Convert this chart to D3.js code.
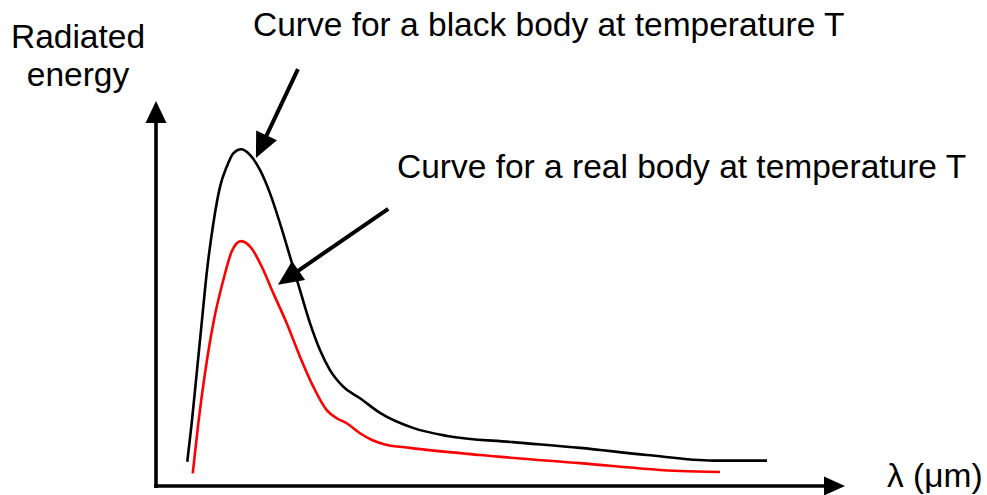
<!DOCTYPE html>
<html>
<head>
<meta charset="utf-8">
<script src="https://cdn.jsdelivr.net/npm/d3@7"></script>
<style>
  html, body { margin: 0; padding: 0; background: #fff; }
  svg { display: block; font-family: "Liberation Sans", Arial, sans-serif; }
</style>
</head>
<body>
<svg id="chart" width="987" height="495"></svg>
<script>
// Wavelength (arbitrary units, 0–100 along the axis) and radiated energy (arbitrary units)
const blackWavelength = [4.54, 5.18, 5.91, 6.63, 7.36, 8.32, 9.29, 10.26, 11.22, 12.34, 13.64, 15.09, 16.55, 18.0, 19.45, 20.9, 22.35, 23.8, 25.25, 27.18, 29.61, 32.51, 37.3, 42.24, 51.81, 61.54, 71.26, 80.84, 88.68];
const blackEnergy     = [6.3, 16.3, 29.3, 42.3, 55.3, 68.2, 77.7, 82.9, 86.4, 87.45, 86.0, 82.1, 76.0, 68.2, 59.6, 50.9, 42.3, 35.3, 30.1, 25.8, 22.8, 19.0, 15.1, 13.0, 11.4, 9.9, 8.05, 6.6, 6.6];

const realWavelength = [5.33, 6.14, 7.11, 8.32, 9.77, 10.99, 12.34, 13.89, 15.34, 17.02, 18.97, 20.9, 22.83, 24.78, 26.23, 27.68, 29.61, 31.35, 33.24, 36.86, 47.02, 61.54, 76.05, 81.86];
const realEnergy     = [3.3, 16.3, 29.3, 42.3, 53.5, 60.9, 63.6, 61.7, 57.0, 50.1, 42.3, 33.6, 25.8, 19.7, 17.6, 16.3, 13.7, 11.95, 10.8, 9.9, 8.05, 5.95, 3.9, 3.65];

const axisLabels = { y: ["Radiated", "energy"], x: "λ (μm)" };

// Callout labels with their arrows (from → to, in data units)
const calloutText  = ["Curve for a black body at temperature T", "Curve for a real body at temperature T"];
const calloutFrom  = [[20.6, 108.3], [33.7, 72.0]];
const calloutTo    = [[14.5, 85.2], [17.7, 52.3]];

const svg = d3.select("#chart");

const x = d3.scaleLinear().domain([0, 100]).range([156, 845]);
const y = d3.scaleLinear().domain([0, 100]).range([486, 101]);

// Filled triangular arrowhead with its tip at (tx, ty), pointing along angle a
function arrowHead(g, tx, ty, a, len, half) {
  const bx = tx - len * Math.cos(a), by = ty - len * Math.sin(a);
  const nx = -Math.sin(a) * half, ny = Math.cos(a) * half;
  g.append("path")
    .attr("d", `M${tx},${ty}L${bx + nx},${by + ny}L${bx - nx},${by - ny}Z`)
    .attr("fill", "#000");
  return [bx, by];
}

function arrow(g, x1, y1, x2, y2, width, len, half) {
  const a = Math.atan2(y2 - y1, x2 - x1);
  const [bx, by] = arrowHead(g, x2, y2, a, len, half);
  g.append("line")
    .attr("x1", x1).attr("y1", y1)
    .attr("x2", bx + Math.cos(a)).attr("y2", by + Math.sin(a))
    .attr("stroke", "#000").attr("stroke-width", width);
}

// Axes
const axes = svg.append("g");
arrow(axes, x(0), y(0) + 2, x(0), y(100), 3.6, 22, 10.5);
arrow(axes, x(0) - 2, y(0), x(100), y(0), 3.6, 21, 9.5);

// Curves
const line = d3.line()
  .x(d => x(d[0]))
  .y(d => y(d[1]))
  .curve(d3.curveMonotoneX);

const blackPts = blackWavelength.map((w, i) => [w, blackEnergy[i]]);
const realPts  = realWavelength.map((w, i) => [w, realEnergy[i]]);

svg.append("path").datum(blackPts)
  .attr("d", line).attr("fill", "none")
  .attr("stroke", "#000").attr("stroke-width", 2.6);

svg.append("path").datum(realPts)
  .attr("d", line).attr("fill", "none")
  .attr("stroke", "#ff0000").attr("stroke-width", 2.6);

// Callout arrows
const callouts = svg.append("g");
calloutFrom.forEach((f, i) => {
  const t = calloutTo[i];
  arrow(callouts, x(f[0]), y(f[1]), x(t[0]), y(t[1]), 4, 25, 11.5);
});

// Text
const fontSize = 33.5;
svg.append("text")
  .attr("x", 253).attr("y", 36)
  .attr("font-size", fontSize).attr("fill", "#000")
  .text(calloutText[0]);
svg.append("text")
  .attr("x", 397).attr("y", 178)
  .attr("font-size", fontSize).attr("fill", "#000")
  .text(calloutText[1]);

// Two-line y-axis title
svg.append("text")
  .attr("y", 48)
  .attr("text-anchor", "middle")
  .attr("font-size", fontSize).attr("fill", "#000")
  .selectAll("tspan")
  .data(axisLabels.y)
  .join("tspan")
  .attr("x", 78)
  .attr("dy", (d, i) => i === 0 ? 0 : 38)
  .text(d => d);

svg.append("text")
  .attr("x", 887).attr("y", 487)
  .attr("font-size", fontSize).attr("fill", "#000")
  .text(axisLabels.x);
</script>
</body>
</html>
